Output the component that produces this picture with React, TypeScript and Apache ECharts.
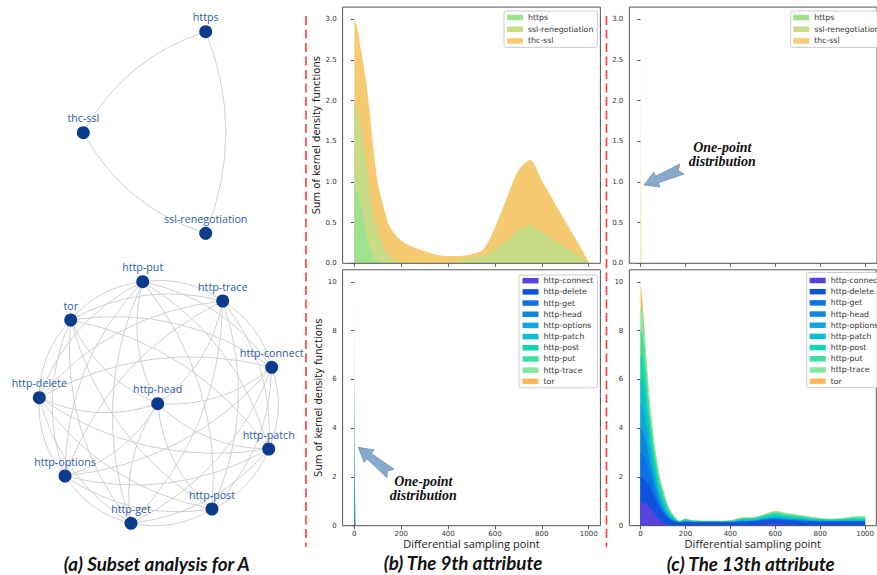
import React, { useEffect, useRef } from "react";
import * as echarts from "echarts";

// ---------------- data ----------------
const X_TICKS = [0, 200, 400, 600, 800, 1000];
const Y_TICKS_TOP = [0, 0.5, 1, 1.5, 2, 2.5, 3];
const Y_TICKS_BOTTOM = [0, 2, 4, 6, 8, 10];

const SSL_GROUP = ["https", "ssl-renegotiation", "thc-ssl"];
const HTTP_GROUP = [
  "http-connect", "http-delete", "http-get", "http-head", "http-options",
  "http-patch", "http-post", "http-put", "http-trace", "tor",
];

// network layout (left panel), in layout units, same order as the groups
const SSL_NODE_X = [205.7, 205.7, 83.3];
const SSL_NODE_Y = [31.7, 233.3, 132.7];
const HTTP_NODE_X = [271.7, 39.3, 131, 157.7, 65, 268.7, 212, 142.7, 222.7, 70.7];
const HTTP_NODE_Y = [367.3, 397.7, 523.3, 403.7, 476, 449, 509, 281.7, 301, 320];

// (b) 9th attribute, upper panel
const X_B = [0, 10, 25, 40, 60, 80, 100, 125, 150, 200, 250, 300, 350, 400, 450, 500, 550, 600, 650, 700, 750, 800, 850, 900, 950, 1000];
const HTTPS_9 = [1.0, 0.93, 0.75, 0.52, 0.25, 0.09, 0.03, 0.005, 0, 0, 0, 0, 0, 0, 0, 0, 0, 0, 0, 0, 0, 0, 0, 0, 0, 0];
const SSLRENEG_9 = [1.0, 0.99, 0.97, 0.94, 0.77, 0.53, 0.38, 0.19, 0.09, 0.02, 0.005, 0, 0, 0.01, 0.03, 0.07, 0.1, 0.17, 0.28, 0.41, 0.47, 0.38, 0.29, 0.2, 0.11, 0.02];
const THCSSL_9 = [1.0, 1.01, 0.96, 0.97, 0.99, 0.83, 0.58, 0.5, 0.37, 0.26, 0.195, 0.15, 0.105, 0.08, 0.06, 0.04, 0.07, 0.27, 0.52, 0.73, 0.8, 0.64, 0.48, 0.32, 0.16, 0];

// one-point distributions
const X_SPIKE = [0, 4, 1000];
const SPIKE_9_HTTP = [0.97, 0.97, 0.97, 0.97, 0.97, 0.97, 0.97, 0.97, 0.97, 0.97];
const SPIKE_13_SSL = [0.96, 0.96, 0.95];

// (c) 13th attribute, lower panel
const X_C = [0, 10, 25, 40, 55, 70, 85, 100, 125, 150, 175, 200, 225, 250, 300, 350, 400, 450, 500, 550, 600, 650, 700, 750, 800, 850, 900, 950, 1000];
const CONNECT_13 = [1.0, 0.97, 0.88, 0.77, 0.62, 0.42, 0.26, 0.14, 0.04, 0.01, 0, 0, 0, 0, 0, 0, 0, 0.01, 0.02, 0.06, 0.08, 0.06, 0.03, 0.01, 0, 0, 0, 0, 0];
const DELETE_13 = [1.0, 0.98, 0.92, 0.83, 0.7, 0.6, 0.48, 0.4, 0.26, 0.16, 0.13, 0.15, 0.15, 0.14, 0.14, 0.14, 0.14, 0.15, 0.15, 0.16, 0.16, 0.16, 0.16, 0.16, 0.16, 0.16, 0.16, 0.16, 0.16];
const GET_13 = [1.0, 0.98, 0.8, 0.55, 0.36, 0.22, 0.13, 0.08, 0.03, 0.01, 0, 0.01, 0, 0, 0, 0, 0, 0.01, 0.01, 0.02, 0.03, 0.02, 0.02, 0.01, 0.01, 0.01, 0.01, 0.01, 0.01];
const HEAD_13 = [1.0, 0.98, 0.78, 0.53, 0.35, 0.23, 0.15, 0.1, 0.05, 0.02, 0.01, 0.01, 0.01, 0.01, 0.01, 0.01, 0.01, 0.02, 0.02, 0.03, 0.04, 0.03, 0.03, 0.02, 0.02, 0.01, 0.02, 0.02, 0.02];
const OPTIONS_13 = [1.0, 0.97, 0.75, 0.52, 0.37, 0.26, 0.18, 0.13, 0.06, 0.03, 0.01, 0.02, 0.01, 0.01, 0.01, 0.01, 0.01, 0.02, 0.02, 0.03, 0.04, 0.04, 0.03, 0.03, 0.02, 0.02, 0.02, 0.03, 0.03];
const PATCH_13 = [1.0, 0.97, 0.73, 0.5, 0.37, 0.27, 0.2, 0.15, 0.08, 0.04, 0.01, 0.02, 0.01, 0.01, 0.01, 0.01, 0.01, 0.03, 0.03, 0.03, 0.05, 0.04, 0.04, 0.03, 0.02, 0.02, 0.02, 0.03, 0.03];
const POST_13 = [1.0, 0.97, 0.7, 0.5, 0.37, 0.28, 0.21, 0.16, 0.09, 0.04, 0.01, 0.03, 0.02, 0.02, 0.01, 0.01, 0.02, 0.04, 0.04, 0.05, 0.08, 0.06, 0.05, 0.04, 0.03, 0.02, 0.03, 0.04, 0.04];
const PUT_13 = [1.0, 0.97, 0.7, 0.5, 0.38, 0.28, 0.22, 0.17, 0.09, 0.05, 0.02, 0.03, 0.02, 0.01, 0.01, 0.01, 0.02, 0.03, 0.03, 0.04, 0.06, 0.05, 0.05, 0.04, 0.03, 0.03, 0.03, 0.04, 0.05];
const TRACE_13 = [1.0, 0.96, 0.69, 0.5, 0.38, 0.29, 0.22, 0.17, 0.08, 0.04, 0.01, 0.03, 0.01, 0.01, 0.01, 0.01, 0.01, 0.02, 0.02, 0.03, 0.05, 0.05, 0.04, 0.04, 0.03, 0.02, 0.03, 0.05, 0.06];
const TOR_13 = [1.0, 0.35, 0.05, 0, 0, 0, 0, 0, 0, 0, 0, 0, 0, 0, 0, 0, 0, 0.01, 0.01, 0.01, 0.01, 0.01, 0, 0, 0, 0, 0, 0, 0];

const SSL_9_VALUES = [HTTPS_9, SSLRENEG_9, THCSSL_9];
const HTTP_13_VALUES = [CONNECT_13, DELETE_13, GET_13, HEAD_13, OPTIONS_13, PATCH_13, POST_13, PUT_13, TRACE_13, TOR_13];

// ---------------- styles ----------------
const SSL_COLORS = ["#9ee28f", "#c8dc86", "#f6ca70"];
const HTTP_COLORS = ["#5841dc", "#0f52e0", "#0c70e6", "#0b88dc", "#10a6dc", "#0cbfcf", "#12d5b1", "#3edf9d", "#82e8a0", "#ffb75e"];

const AXIS_FONT = "DejaVu Sans";
const W = 877;
const H = 575;

// stacked areas: each layer is drawn from 0 up to the running total; lower layers are painted over upper ones
function stackedSeries(names: string[], colors: string[], xs: number[], layers: number[][], idx: number, smooth: number | boolean, opacity = 1) {
  const totals: number[][] = [];
  layers.forEach((ys, k) => {
    totals.push(ys.map((v, i) => v + (k > 0 ? totals[k - 1][i] : 0)));
  });
  const out: any[] = [];
  for (let k = layers.length - 1; k >= 0; k--) {
    const color = colors[k];
    out.push({
      type: "line",
      name: names[k],
      xAxisIndex: idx,
      yAxisIndex: idx,
      data: xs.map((x, i) => [x, +totals[k][i].toFixed(4)]),
      symbol: "none",
      showSymbol: false,
      smooth,
      color,
      itemStyle: { color },
      lineStyle: { width: 0, color },
      areaStyle: { color, opacity, origin: "start" },
      emphasis: { disabled: true },
      silent: true,
      z: 2,
    });
  }
  return out;
}

function buildGraph(names: string[], xs: number[], ys: number[], bend: number) {
  const cx = xs.reduce((a, b) => a + b, 0) / xs.length;
  const cy = ys.reduce((a, b) => a + b, 0) / ys.length;
  const nodes = names.map((n, i) => ({ name: n, value: [xs[i], ys[i]] }));
  const links: any[] = [];
  for (let i = 0; i < names.length; i++) {
    for (let j = i + 1; j < names.length; j++) {
      const dx = xs[j] - xs[i];
      const dy = ys[j] - ys[i];
      const mx = (xs[i] + xs[j]) / 2 - cx;
      const my = (ys[i] + ys[j]) / 2 - cy;
      const dot = dy * mx - dx * my;
      links.push({ source: names[i], target: names[j], lineStyle: { curveness: dot >= 0 ? bend : -bend } });
    }
  }
  return { nodes, links };
}

function arrowPoints(tip: number[], tail: number[]) {
  const dx = tail[0] - tip[0];
  const dy = tail[1] - tip[1];
  const L = Math.hypot(dx, dy);
  const ux = dx / L, uy = dy / L;
  const nx = -uy, ny = ux;
  const at = (s: number, t: number) => [tip[0] + ux * s + nx * t, tip[1] + uy * s + ny * t];
  const headLen = 14, headHalf = 8, shaftTip = 3.5, shaftTail = 5.5, notch = 4;
  return [
    at(0, 0), at(headLen, headHalf), at(headLen, shaftTip), at(L, shaftTail),
    at(L - notch, 0), at(L, -shaftTail), at(headLen, -shaftTip), at(headLen, -headHalf),
  ];
}

const App: React.FC = () => {
  const ref = useRef<HTMLDivElement>(null);

  useEffect(() => {
    document.body.style.margin = "0";
    if (!ref.current) return;
    const chart = echarts.init(ref.current, undefined, { renderer: "svg" });

    const grids = [
      { left: 342.6, top: 7.1, width: 257.8, height: 256.2 },
      { left: 342.6, top: 269.8, width: 257.8, height: 255.9 },
      { left: 629.3, top: 7.1, width: 257.1, height: 256.2 },
      { left: 629.3, top: 269.8, width: 257.1, height: 255.9 },
    ];

    const xAxes: any[] = grids.map((_, i) => ({
      type: "value",
      gridIndex: i,
      min: -50,
      max: 1050,
      axisLine: { show: false },
      splitLine: { show: false },
      axisTick: { show: true, customValues: X_TICKS, length: 3.5, lineStyle: { color: "#333", width: 0.8 } },
      axisLabel: {
        show: i === 1 || i === 3,
        customValues: X_TICKS,
        fontSize: 7,
        color: "#333",
        margin: 4.5,
        fontFamily: AXIS_FONT,
        formatter: (v: number) => String(v),
      },
      name: i === 1 || i === 3 ? "Differential sampling point" : "",
      nameLocation: "middle",
      nameGap: 11,
      nameTextStyle: { fontSize: 11, color: "#222", fontFamily: "Open Sans" },
    }));

    const yAxes: any[] = grids.map((_, i) => {
      const top = i === 0 || i === 2;
      const ticks = top ? Y_TICKS_TOP : Y_TICKS_BOTTOM;
      return {
        type: "value",
        gridIndex: i,
        min: 0,
        max: top ? 3.15 : 10.5,
        axisLine: { show: false },
        splitLine: { show: false },
        axisTick: { show: true, customValues: ticks, length: 3.5, lineStyle: { color: "#333", width: 0.8 } },
        axisLabel: {
          customValues: ticks,
          fontSize: 7,
          color: "#333",
          margin: 6,
          fontFamily: AXIS_FONT,
          formatter: (v: number) => (top ? v.toFixed(1) : String(v)),
        },
        name: i === 0 || i === 1 ? "Sum of kernel density functions" : "",
        nameLocation: "middle",
        nameRotate: 90,
        nameGap: 16,
        nameTextStyle: { fontSize: 10, color: "#222", fontFamily: AXIS_FONT },
      };
    });

    // hidden layout grid for the network diagrams
    const layoutGrid = { left: 0, top: 0, width: 300, height: H, show: false };
    xAxes.push({ type: "value", gridIndex: 4, min: 0, max: 300, show: false });
    yAxes.push({ type: "value", gridIndex: 4, min: 0, max: H, inverse: true, show: false });

    const spikeLayers = (peaks: number[]) => peaks.map((p) => [p, 0, 0]);

    const series: any[] = [
      ...stackedSeries(SSL_GROUP, SSL_COLORS, X_B, SSL_9_VALUES, 0, 0.3),
      ...stackedSeries(HTTP_GROUP, HTTP_COLORS, X_SPIKE, spikeLayers(SPIKE_9_HTTP), 1, false, 0.35),
      ...stackedSeries(SSL_GROUP, SSL_COLORS, X_SPIKE, spikeLayers(SPIKE_13_SSL), 2, false, 0.35),
      ...stackedSeries(HTTP_GROUP, HTTP_COLORS, X_C, HTTP_13_VALUES, 3, 0.3),
    ];

    const gA = buildGraph(SSL_GROUP, SSL_NODE_X, SSL_NODE_Y, 0.2);
    const gB = buildGraph(HTTP_GROUP, HTTP_NODE_X, HTTP_NODE_Y, 0.2);
    [gA, gB].forEach((g) =>
      series.push({
        type: "graph",
        layout: "none",
        coordinateSystem: "cartesian2d",
        xAxisIndex: 4,
        yAxisIndex: 4,
        data: g.nodes,
        links: g.links,
        symbol: "circle",
        symbolSize: 13,
        itemStyle: { color: "#0b3c8c" },
        label: {
          show: true,
          position: "top",
          distance: 2.5,
          color: "#2a5ea9",
          fontSize: 10.7,
          fontFamily: "Open Sans",
        },
        lineStyle: { color: "#d0d0d0", width: 1, opacity: 1 },
        emphasis: { disabled: true },
        silent: true,
        z: 3,
      })
    );

    const legendBase = {
      orient: "vertical",
      icon: "rect",
      itemWidth: 16,
      itemHeight: 5.5,
      selectedMode: false,
      backgroundColor: "rgba(255,255,255,0.85)",
      borderColor: "#cccccc",
      borderWidth: 1,
      borderRadius: 2,
      textStyle: { fontSize: 7.8, color: "#333", fontFamily: AXIS_FONT, lineHeight: 9 },
      itemStyle: { borderWidth: 0, opacity: 1 },
      z: 10,
    };

    const legends = [
      { ...legendBase, data: SSL_GROUP, left: 504, top: 11, itemGap: 2.7, padding: [2, 4, 2, 3] },
      { ...legendBase, data: HTTP_GROUP, left: 519, top: 275, itemGap: 2.18, padding: [1.2, 4, 2, 3.5] },
      { ...legendBase, data: SSL_GROUP, left: 790.7, top: 11, itemGap: 2.7, padding: [2, 4, 2, 2.5] },
      { ...legendBase, data: HTTP_GROUP, left: 806.7, top: 272.5, itemGap: 2.18, padding: [3.5, 4, 2, 3] },
    ];

    const dash = (x: number) => ({
      type: "line",
      shape: { x1: x, y1: 16, x2: x, y2: 547 },
      style: { stroke: "#ff3b3b", lineWidth: 1.6, lineDash: [9, 4.5] },
      z: 20,
    });

    const arrow = (tip: number[], tail: number[]) => ({
      type: "polygon",
      shape: { points: arrowPoints(tip, tail) },
      style: { fill: "#86a9cc", stroke: "#6f93b8", lineWidth: 0.8 },
      z: 20,
    });

    const txt = (text: string, x: number, y: number, font: string, fill = "#111") => ({
      type: "text",
      x,
      y,
      style: {
        text,
        font,
        fill,
        align: "center",
        verticalAlign: "middle",
        textAlign: "center",
        textVerticalAlign: "middle",
      },
      z: 21,
    });

    const noteFont = 'italic bold 14px "Liberation Serif"';
    const capFont = 'italic bold 18.8px Lato';

    chart.setOption({
      animation: false,
      backgroundColor: "#ffffff",
      textStyle: { fontFamily: AXIS_FONT },
      grid: [
        ...grids.map((g) => ({ ...g, show: true, borderColor: "#555", borderWidth: 1, backgroundColor: "transparent", z: 4 })),
        layoutGrid,
      ],
      xAxis: xAxes,
      yAxis: yAxes,
      legend: legends,
      series,
      graphic: [
        dash(306),
        dash(606.5),
        arrow([358.3, 447.3], [390.5, 473.5]),
        arrow([644, 185], [682, 169]),
        txt("One-point", 423.3, 481, noteFont),
        txt("distribution", 423.3, 495, noteFont),
        txt("One-point", 722.3, 147.7, noteFont),
        txt("distribution", 722.3, 161.7, noteFont),
        txt("(a) Subset analysis for A", 156.7, 563, capFont),
        txt("(b) The 9th attribute", 463, 562.7, capFont),
        txt("(c) The 13th attribute", 750.8, 563, capFont),
      ],
    });

    return () => chart.dispose();
  }, []);

  return <div ref={ref} style={{ width: W, height: H }} />;
};

export default App;
